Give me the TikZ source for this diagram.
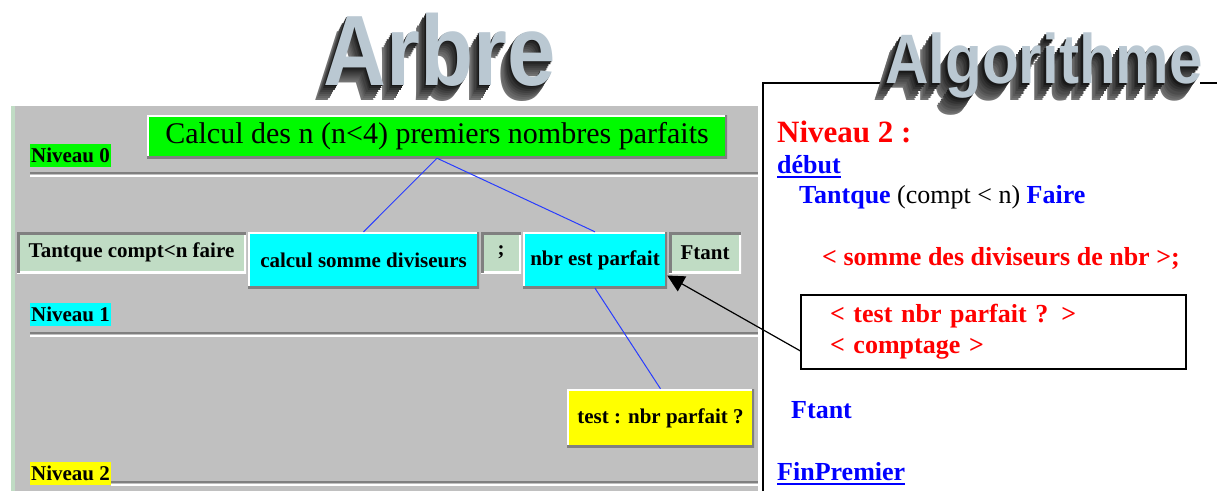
\documentclass[tikz,border=0pt]{standalone}
\usepackage{fontspec}
\setmainfont{Liberation Serif}
\newfontfamily\titlefont{Liberation Sans}
\usetikzlibrary{arrows.meta,calc}

\definecolor{panelgray}{RGB}{192,192,192}
\definecolor{bevelgray}{RGB}{128,128,128}
\definecolor{vert}{RGB}{0,250,0}
\definecolor{cyanbox}{RGB}{0,255,255}
\definecolor{jaune}{RGB}{255,255,0}
\definecolor{vertpale}{RGB}{192,220,196}
\definecolor{acier}{RGB}{186,200,210}
\definecolor{bleutxt}{RGB}{0,0,255}
\definecolor{rougetxt}{RGB}{255,0,0}
\definecolor{bleutrait}{RGB}{40,60,255}

\tikzset{
  raised/.style={fill=#1, inner sep=0pt, font=\fontsize{21}{21}\selectfont\bfseries,
    path picture={
      \draw[white, line width=4pt] (path picture bounding box.south west) -- (path picture bounding box.north west) -- (path picture bounding box.north east);
      \draw[bevelgray, line width=5pt] (path picture bounding box.south west) -- (path picture bounding box.south east) -- (path picture bounding box.north east);
    }},
  sunken/.style={fill=vertpale, inner sep=0pt, minimum height=41pt, font=\fontsize{21}{21}\selectfont\bfseries,
    path picture={
      \draw[white, line width=4pt] (path picture bounding box.south west) -- (path picture bounding box.south east) -- (path picture bounding box.north east);
      \draw[bevelgray, line width=5pt] (path picture bounding box.south west) -- (path picture bounding box.north west) -- (path picture bounding box.north east);
    }},
  niveau/.style={fill=#1, inner xsep=0.5pt, inner ysep=0pt, minimum width=81pt, minimum height=23pt, font=\fontsize{21}{21}\selectfont\bfseries},
  branche/.style={bleutrait, line width=1pt},
  titre/.style={anchor=base, inner sep=0pt, font=\titlefont\bfseries\fontsize{#1}{#1}\selectfont},
  algo/.style={anchor=base west, inner sep=0pt, font=\fontsize{26}{31}\selectfont\bfseries},
  souligne/.style={bleutxt, line width=2.5pt}
}

\begin{document}
\begin{tikzpicture}[x=1pt,y=-1pt]
  \useasboundingbox (0,0) rectangle (1217,491);

  % panneau de l'arbre
  \fill[vertpale] (11,106) rectangle (15,491);
  \fill[panelgray] (15,106) rectangle (758,491);
  \foreach \y/\xa in {173/30,333/30,482/111}{
    \draw[bevelgray, line width=2pt] (\xa,\y) -- (758,\y);
    \draw[white, line width=1.5pt] (\xa,\y+3) -- (758,\y+3);
  }

  % titres en relief
  \foreach \d [evaluate=\d as \c using int(95-5*\d)] in {8,7,...,1}
    \node[titre=100, xscale=0.87, text=black!\c] at ($(440,85)+(-1.25*\d,1.9*\d)$) {Arbre};
  \node[titre=100, xscale=0.87, text=acier] at (440,85) {Arbre};

  \draw[line width=1.5pt] (763,491) -- (763,83) -- (880,83);
  \draw[line width=1.5pt] (1200,83) -- (1217,83);
  \foreach \d [evaluate=\d as \c using int(95-5*\d)] in {8,7,...,1}
    \node[titre=70, xscale=0.86, text=black!\c] at ($(1044,83)+(-1.5*\d,2.2*\d)$) {Algorithme};
  \node[titre=70, xscale=0.86, text=acier] at (1044,83) {Algorithme};

  % arbre
  \node[raised=vert, minimum width=580pt, minimum height=43pt, font=\fontsize{30}{30}\selectfont] (racine) at (437,136.5) {Calcul des n (n<4) premiers nombres parfaits};
  \node[niveau=vert] (niv0) at (70.5,155.5) {Niveau 0};

  \node[sunken, minimum width=229pt] (tantque) at (131.5,252.5) {Tantque compt<n faire};
  \node[raised=cyanbox, minimum width=231pt, minimum height=56pt] (calcul) at (363.5,260) {calcul somme diviseurs};
  \node[sunken, minimum width=40pt] (pointvirg) at (501,252.5) {;};
  \node[raised=cyanbox, minimum width=144pt, minimum height=56pt] (nbr) at (595,260) {nbr est parfait};
  \node[sunken, minimum width=72pt] (ftant) at (705,252.5) {Ftant};
  \node[niveau=cyanbox] (niv1) at (70.5,314.5) {Niveau 1};

  \node[raised=jaune, minimum width=187pt, minimum height=58pt] (test) at (660.5,418) {test : nbr parfait ?};
  \node[niveau=jaune] (niv2) at (70.5,473) {Niveau 2};

  \draw[branche] (racine.south) -- (calcul.north);
  \draw[branche] (racine.south) -- (nbr.north);
  \draw[branche] (nbr.south) -- (test.north);

  % algorithme
  \node[algo, font=\fontsize{31}{31}\selectfont\bfseries, text=rougetxt] (niveau2) at (777,142) {Niveau 2 :};
  \node[algo, text=bleutxt] (debut) at (777,173) {début};
  \draw[souligne] ([yshift=-4pt]debut.base west) -- ([yshift=-4pt]debut.base east);
  \node[algo] (tantq) at (799,203) {\textcolor{bleutxt}{Tantque} {\mdseries (compt < n)} \textcolor{bleutxt}{Faire}};
  \node[algo, text=rougetxt] (somme) at (822,265) {< somme des diviseurs de nbr >;};
  \node[draw, line width=1.5pt, minimum width=385pt, minimum height=74pt, text width=327pt, align=left,
        font=\fontsize{26}{31}\selectfont\bfseries, text=rougetxt] (boite) at (993.5,332) {< test nbr parfait ? >\\< comptage >};
  \node[algo, text=bleutxt] (ftantalgo) at (791,418) {Ftant};
  \node[algo, text=bleutxt] (finpremier) at (777,480) {FinPremier};
  \draw[souligne] ([yshift=-4pt]finpremier.base west) -- ([yshift=-4pt]finpremier.base east);

  \draw[-{Triangle[length=17pt,width=17pt]}, line width=1.2pt] ($(boite.west)!0.5!(boite.south west)$) -- ($(nbr.east)!0.55!(nbr.south east)$);
\end{tikzpicture}
\end{document}
